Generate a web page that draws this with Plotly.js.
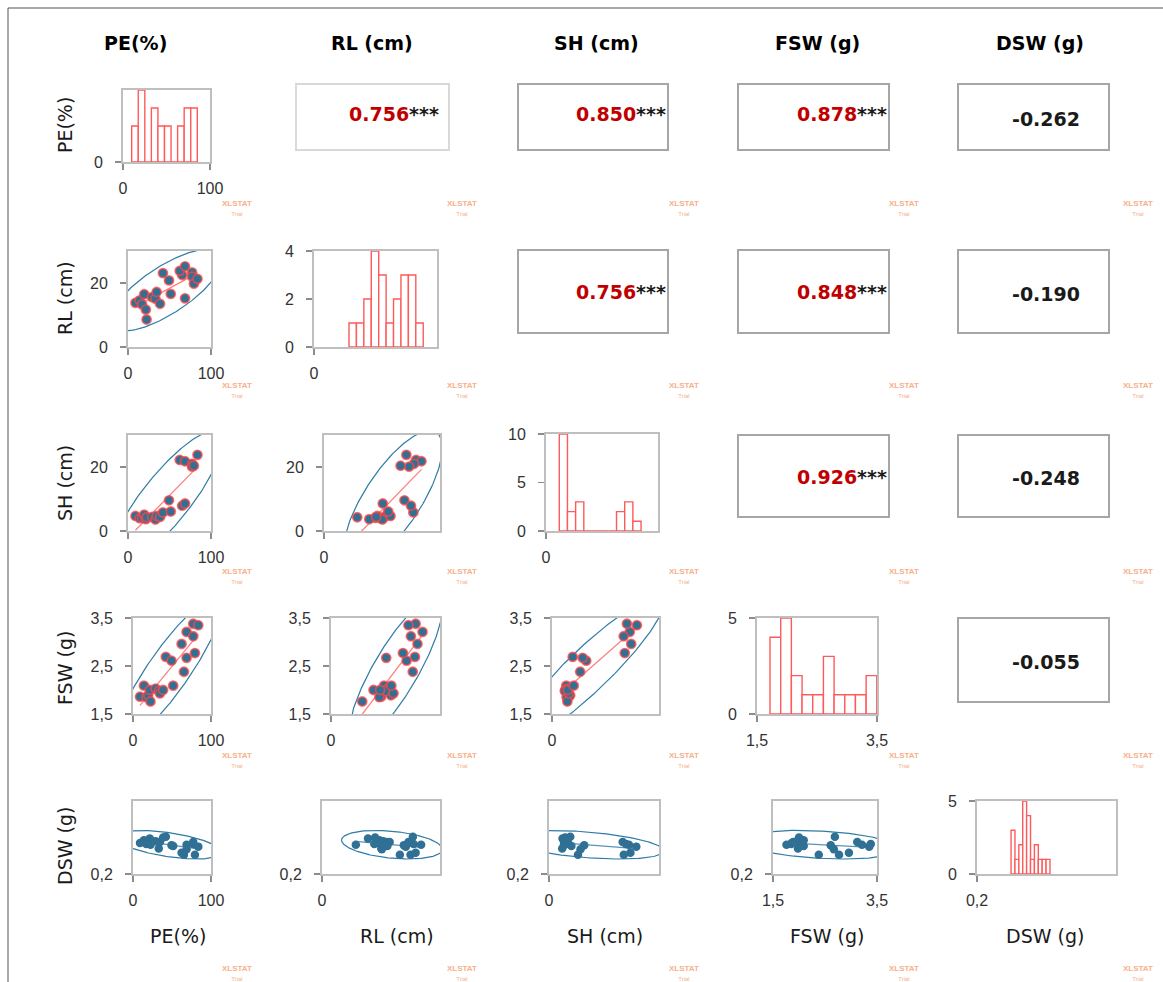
<!DOCTYPE html>
<html><head><meta charset="utf-8">
<script src="https://cdn.plot.ly/plotly-3.0.1.min.js"></script>
<style>html,body{margin:0;padding:0;background:#fff;} #chart{width:1163px;height:982px;}</style>
</head><body><div id="chart"></div>
<script>
// ---------- DATA ----------
const varNames = ['PE(%)', 'RL (cm)', 'SH (cm)', 'FSW (g)', 'DSW (g)'];
const pe  = [9, 14, 17, 19.5, 21.5, 22.4, 29, 33, 34.5, 38.6, 42.1, 49.4, 51.5, 65.3, 68.7, 62.3, 68.7, 77.2, 77.2, 79.4, 83.7];
const rl  = [13.8, 14.6, 13.3, 16.5, 11.7, 8.6, 15.6, 15.1, 17.2, 13.5, 23.1, 20.8, 16.6, 22.5, 15.2, 23.8, 25.2, 23.3, 22.0, 19.8, 21.3];
const sh  = [4.7, 4.0, 4.1, 5.1, 3.7, 4.3, 4.4, 3.6, 4.7, 4.4, 5.8, 9.6, 6.1, 7.9, 8.6, 22.2, 21.8, 21.0, 20.1, 20.4, 23.8];
const fsw = [1.86, 2.09, 1.85, 1.89, 2.00, 1.76, 2.03, 1.98, 1.93, 2.00, 2.69, 2.61, 2.09, 2.38, 2.67, 2.96, 3.21, 3.38, 3.12, 2.77, 3.35];
const dsw = [0.37, 0.385, 0.365, 0.375, 0.395, 0.36, 0.38, 0.34, 0.375, 0.40, 0.404, 0.357, 0.353, 0.305, 0.335, 0.316, 0.36, 0.365, 0.375, 0.305, 0.35];

const corrPairs  = [[0,1],[0,2],[0,3],[0,4],[1,2],[1,3],[1,4],[2,3],[2,4],[3,4]];
const corrValues = ['0.756','0.850','0.878','-0.262','0.756','0.848','-0.190','0.926','-0.248','-0.055'];
const corrSignif = ['***','***','***','','***','***','','***','',''];

const histStart  = [10.0, 8.54, 3.56, 1.717, 0.298];
const histWidth  = [7.54, 1.81, 2.19, 0.178, 0.0112];
const histCounts = [
  [2,4,0,3,2,2,0,2,3,3],
  [1,1,2,4,3,1,2,3,3,1],
  [10,2,3,0,0,0,0,2,3,1],
  [4,5,2,1,1,3,1,1,1,2],
  [3,1,2,5,4,1,2,1,1,1]
];
const histRange    = [[0,4],[0,4],[0,10],[0,5],[0,5]];
const histYTicks   = [[0],[0,2,4],[0,5,10],[0,5],[0,5]];

const axisRange  = [[0,100],[0,30],[0,30],[1.5,3.5],[0.2,0.6]];
const xTickVals  = [[0,100],[0],[0],[1.5,3.5],[0.2]];
const xTickText  = [['0','100'],['0'],['0'],['1,5','3,5'],['0,2']];
const yTickVals  = [[0,100],[0,20],[0,20],[1.5,2.5,3.5],[0.2]];
const yTickText  = [['0','100'],['0','20'],['0','20'],['1,5','2,5','3,5'],['0,2']];

// ---------- LAYOUT CONSTANTS ----------
const W = 1163, H = 982;
const px = v => v / W;
const py = v => 1 - v / H;
const panels = [
  {r:0,c:0,box:[123,210,90,162]},
  {r:1,c:0,box:[128,211,251,347]},
  {r:1,c:1,box:[314,437,251,347]},
  {r:2,c:0,box:[128,211,435,531]},
  {r:2,c:1,box:[324,440,435,531]},
  {r:2,c:2,box:[546,658,434,531]},
  {r:3,c:0,box:[133,211,618,714]},
  {r:3,c:1,box:[331,440,618,714]},
  {r:3,c:2,box:[552,659,618,714]},
  {r:3,c:3,box:[757,877,618,714]},
  {r:4,c:0,box:[133,211,801,874]},
  {r:4,c:1,box:[322,440,801,874]},
  {r:4,c:2,box:[549,659,801,874]},
  {r:4,c:3,box:[773,877,801,874]},
  {r:4,c:4,box:[977,1116,801,874]}
];
const corrBoxes = [
  [296,449,84,150],[518,668,84,150],[738,889,84,150],[958,1109,84,150],
  [518,668,250,333],[738,889,250,333],[958,1109,250,333],
  [738,889,435,517],[958,1109,435,517],
  [958,1109,618,702]
];
const colHeadX = [135, 372, 596, 817, 1040];
const botLabX  = [178, 397, 605, 827, 1045];
const rowLabY  = [125, 298, 483, 668, 846];
const wmX = [237, 462, 684, 904, 1138];
const wmY = [208, 390, 576, 760, 973];

const vars = [pe, rl, sh, fsw, dsw];
const DOT = '#2F7094', RED = '#FF5A5A', ELL = '#2E7BA6';

function stats(xs, ys) {
  const n = xs.length;
  const mx = xs.reduce((a,b)=>a+b,0)/n, my = ys.reduce((a,b)=>a+b,0)/n;
  let sxx=0, syy=0, sxy=0;
  for (let i=0;i<n;i++){ const a=xs[i]-mx, b=ys[i]-my; sxx+=a*a; syy+=b*b; sxy+=a*b; }
  return {n,mx,my,sxx:sxx/(n-1),syy:syy/(n-1),sxy:sxy/(n-1)};
}
// 95% prediction ellipse (F(0.95; 2, n-2) for n = 21 is 3.522)
function ellipsePts(xs, ys) {
  const s = stats(xs, ys);
  const n = s.n, F = 3.522;
  const k = Math.sqrt(2*(n-1)*(n+1)/(n*(n-2)) * F);
  const a = Math.sqrt(s.sxx), b = s.sxy / a, c = Math.sqrt(Math.max(s.syy - b*b, 0));
  const ex=[], ey=[];
  for (let i=0;i<=240;i++){ const t = 2*Math.PI*i/240;
    ex.push(s.mx + k*a*Math.cos(t)); ey.push(s.my + k*(b*Math.cos(t) + c*Math.sin(t))); }
  return [ex, ey];
}
function regLine(xs, ys) {
  const s = stats(xs, ys); const slope = s.sxy / s.sxx;
  const x0 = Math.min(...xs), x1 = Math.max(...xs);
  return [[x0,x1],[s.my + slope*(x0-s.mx), s.my + slope*(x1-s.mx)]];
}

const tickFont = {family:'Liberation Sans, Arial, sans-serif', size:16, color:'#333'};
function baseAxis(dom) {
  return {domain: dom, showline:true, mirror:true, linecolor:'#BFBFBF', linewidth:2,
    ticks:'outside', ticklen:6, tickcolor:'#8C8C8C', tickwidth:1.5,
    showgrid:false, zeroline:false, tickfont: tickFont, fixedrange:true, tickmode:'array'};
}

const traces = [];
const layout = {
  width: W, height: H, margin:{l:0,r:0,t:0,b:0}, paper_bgcolor:'#fff', plot_bgcolor:'#fff',
  showlegend:false, bargap:0, shapes:[], annotations:[]
};

panels.forEach((p, i) => {
  const k = i + 1, sfx = k === 1 ? '' : String(k);
  const xa = baseAxis([px(p.box[0]), px(p.box[1])]);
  const ya = baseAxis([py(p.box[3]), py(p.box[2])]);
  xa.anchor = 'y' + sfx; ya.anchor = 'x' + sfx;
  xa.range = axisRange[p.c]; xa.tickvals = xTickVals[p.c]; xa.ticktext = xTickText[p.c];
  xa.ticklabelstandoff = 5; ya.ticklabelstandoff = 9;
  if (p.r === p.c) {
    ya.range = histRange[p.r]; ya.tickvals = histYTicks[p.r];
    ya.ticktext = histYTicks[p.r].map(String);
    const centers = histCounts[p.r].map((_, j) => histStart[p.r] + histWidth[p.r]*(j+0.5));
    traces.push({type:'bar', x:centers, y:histCounts[p.r], width:histWidth[p.r],
      xaxis:'x'+sfx, yaxis:'y'+sfx,
      marker:{color:'rgba(255,255,255,1)', line:{color:RED, width:1.4}}, hoverinfo:'skip'});
  } else {
    ya.range = axisRange[p.r]; ya.tickvals = yTickVals[p.r]; ya.ticktext = yTickText[p.r];
    const xs = vars[p.c], ys = vars[p.r];
    const sig = p.r !== 4;
    const [ex, ey] = ellipsePts(xs, ys);
    traces.push({type:'scatter', mode:'lines', x:ex, y:ey, xaxis:'x'+sfx, yaxis:'y'+sfx,
      line:{color:ELL, width:1.2}, hoverinfo:'skip'});
    const [lx, ly] = regLine(xs, ys);
    traces.push({type:'scatter', mode:'lines', x:lx, y:ly, xaxis:'x'+sfx, yaxis:'y'+sfx,
      line:{color: sig ? '#FF8080' : '#5B93B8', width:1.3}, hoverinfo:'skip'});
    traces.push({type:'scatter', mode:'markers', x:xs, y:ys, xaxis:'x'+sfx, yaxis:'y'+sfx,
      cliponaxis:true,
      marker:{color:DOT, size: sig ? 9 : 8.5,
        line:{color: sig ? 'rgba(255,70,70,0.75)' : DOT, width: sig ? 1.8 : 0}}});
  }
  layout['xaxis'+sfx] = xa; layout['yaxis'+sfx] = ya;
});

// correlation boxes
corrBoxes.forEach((b, i) => {
  layout.shapes.push({type:'rect', xref:'paper', yref:'paper',
    x0:px(b[0]), x1:px(b[1]), y0:py(b[3]), y1:py(b[2]),
    line:{color: i === 0 ? '#D9D9D9' : '#A6A6A6', width:2}, fillcolor:'rgba(0,0,0,0)'});
  const sig = corrSignif[i] !== '';
  const ty = sig ? (i < 4 ? b[2] + 30 : (b[2] + b[3]) / 2 + 1) : (b[2] + b[3]) / 2 + 2;
  if (sig) {
    layout.annotations.push({xref:'paper', yref:'paper', x:px(b[1] - (i===0?8:0)), y:py(ty),
      xanchor:'right', yanchor:'middle', showarrow:false,
      text:'<b><span style="color:#C00000">' + corrValues[i] + '</span>' + corrSignif[i] + '</b>',
      font:{family:'DejaVu Sans, Arial, sans-serif', size:19, color:'#1a1a1a'}});
  } else {
    layout.annotations.push({xref:'paper', yref:'paper', x:px(1046), y:py(ty),
      xanchor:'center', yanchor:'middle', showarrow:false,
      text:'<b>' + corrValues[i] + '</b>',
      font:{family:'DejaVu Sans, Arial, sans-serif', size:19, color:'#1a1a1a'}});
  }
});

// headers and labels
varNames.forEach((n, i) => {
  layout.annotations.push({xref:'paper', yref:'paper', x:px(colHeadX[i]), y:py(43),
    xanchor:'center', yanchor:'middle', showarrow:false, text:'<b>'+n+'</b>',
    font:{family:'DejaVu Sans, Arial, sans-serif', size:19, color:'#000'}});
  layout.annotations.push({xref:'paper', yref:'paper', x:px(botLabX[i]), y:py(936),
    xanchor:'center', yanchor:'middle', showarrow:false, text:n,
    font:{family:'DejaVu Sans, Arial, sans-serif', size:19, color:'#1a1a1a'}});
  layout.annotations.push({xref:'paper', yref:'paper', x:px(65), y:py(rowLabY[i]),
    xanchor:'center', yanchor:'middle', showarrow:false, text:n, textangle:-90,
    font:{family:'DejaVu Sans, Arial, sans-serif', size:19, color:'#1a1a1a'}});
});

// watermarks
wmY.forEach(yv => wmX.forEach(xv => {
  layout.annotations.push({xref:'paper', yref:'paper', x:px(xv), y:py(yv),
    xanchor:'center', yanchor:'middle', showarrow:false,
    text:'<b>XLSTAT</b><br><span style="font-size:6px">Trial</span>',
    font:{family:'Liberation Sans, Arial, sans-serif', size:8, color:'#F7B08A'}});
}));

// outer frame (left & top visible)
layout.shapes.push({type:'line', xref:'paper', yref:'paper', x0:px(8), x1:px(8), y0:py(982), y1:py(8),
  line:{color:'#555', width:1}});
layout.shapes.push({type:'line', xref:'paper', yref:'paper', x0:px(8), x1:px(1163), y0:py(8), y1:py(8),
  line:{color:'#555', width:1}});

Plotly.newPlot('chart', traces, layout, {staticPlot:true, displayModeBar:false});
</script></body></html>
